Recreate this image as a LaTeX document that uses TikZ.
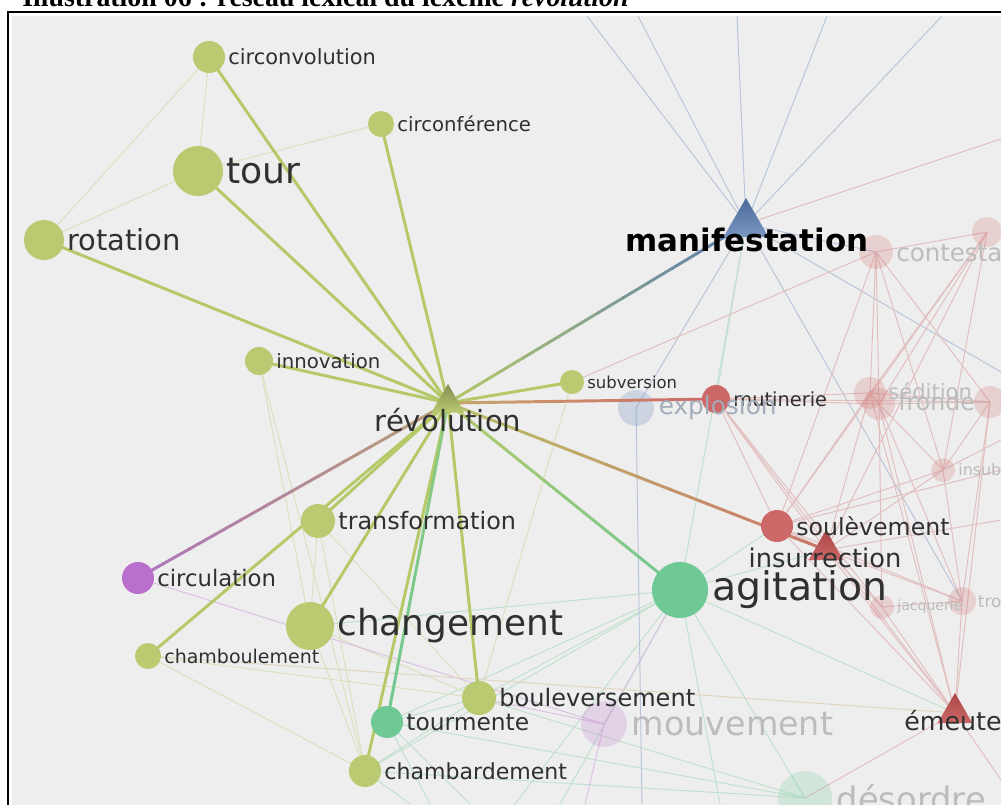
\documentclass[tikz,border=0pt]{standalone}
\usepackage{fontspec}
\setmainfont{DejaVu Sans}
\newfontfamily\capfont{Liberation Serif}
\usetikzlibrary{calc}
\usetikzlibrary{positioning}
\usetikzlibrary{shapes.geometric}

\definecolor{bggray}{RGB}{238,238,238}
\definecolor{lgreen}{RGB}{186,202,112}
\definecolor{egreen}{RGB}{181,201,104}
\definecolor{agreen}{RGB}{110,201,148}
\definecolor{purp}{RGB}{185,112,204}
\definecolor{rred}{RGB}{205,104,104}
\definecolor{tred}{RGB}{170,70,70}
\definecolor{mblue}{RGB}{88,124,180}
\definecolor{tan}{RGB}{200,168,110}
\definecolor{labgray}{RGB}{48,48,48}
\definecolor{fadegray}{RGB}{188,188,188}

\pgfdeclarelayer{back}
\pgfdeclarelayer{faint}
\pgfdeclarelayer{faded}
\pgfdeclarelayer{strong}
\pgfsetlayers{back,faint,faded,strong,main}

\tikzset{
  gnode/.style={circle, inner sep=0pt, fill=lgreen},
  rad/.style={minimum size=#1*0.05cm},
  tri/.style={regular polygon, regular polygon sides=3, inner sep=0pt},
  ghostnode/.style={circle, inner sep=0pt, fill=#1, fill opacity=0.22},
  lab/.style={inner sep=0pt, text=labgray, font=\fontsize{#1pt}{#1pt}\selectfont},
  ghost/.style={inner sep=0pt, text=fadegray, font=\fontsize{#1pt}{#1pt}\selectfont},
  strong/.style={line width=2.1pt, draw=egreen},
  faint/.style={line width=0.7pt, draw=#1!35!bggray},
}

% gradient edge: from node #1 (colour #3) to node #2 (colour #4)
\newcommand{\gradedge}[4]{%
  \foreach \k in {0,...,11}{%
    \pgfmathsetmacro{\ka}{\k/12}%
    \pgfmathsetmacro{\kb}{(\k+1.05)/12}%
    \pgfmathtruncatemacro{\mix}{100*(\k+0.5)/12}%
    \draw[strong, draw=#4!\mix!#3] ($(#1.center)!\ka!(#2.center)$) -- ($(#1.center)!\kb!(#2.center)$);
  }}

\begin{document}
\begin{tikzpicture}[x=0.025cm, y=-0.025cm]
  \useasboundingbox (0,0) rectangle (1001,804);

  % Caption (cut at the top of the page)
  \node[anchor=base west, inner sep=0pt, font=\capfont\bfseries\fontsize{19.8pt}{20pt}\selectfont] (caption) at (22,6)
    {Illustration 06 : réseau lexical du lexème \textit{révolution}};

  % Frame
  \begin{pgfonlayer}{back}
    \draw[black, line width=0.8pt] (8,12) rectangle (1012,816);
    \fill[bggray] (12,16) rectangle (1012,816);
  \end{pgfonlayer}

  % Free ends of the edges leaving the frame
  \foreach \n/\x/\y in {t1/587/16, t2/638/16, t3/737/16, t4/827/16, t5/942/16,
      r1/1001/372, r2/1001/139, r3/1001/780, r4/1001/470, r5/1001/520, r6/1001/440,
      b1/515/804, b2/560/804, b3/720/804, b4/430/804, b5/470/804, b6/410/804,
      b8/585/804, b9/642/804}
    \coordinate (\n) at (\x,\y);

  % Faded nodes (other clusters)
  \begin{pgfonlayer}{faded}
    \node[ghostnode=mblue, rad=18] (explo) at (636,408) {};
    \node[ghostnode=purp, rad=23] (mouv) at (604,724) {};
    \node[ghostnode=agreen, rad=27] (desord) at (805,798) {};
    \node[ghostnode=rred, rad=17] (contest) at (876,252) {};
    \node[ghostnode=rred, rad=15] (rtop) at (987,232) {};
    \node[ghostnode=rred, rad=16] (sedit) at (870,393) {};
    \node[ghostnode=rred, rad=16] (fronde) at (879,404) {};
    \node[ghostnode=rred, rad=16] (rmid) at (990,402) {};
    \node[ghostnode=rred, rad=12] (insub) at (943,470) {};
    \node[ghostnode=rred, rad=12] (jacq) at (882,607) {};
    \node[ghostnode=rred, rad=14] (troub) at (962,601) {};
  \end{pgfonlayer}

  % Nodes
  \node[gnode, rad=16] (circonv) at (209,57) {};
  \node[gnode, rad=13] (circonf) at (381,124) {};
  \node[gnode, rad=25] (tour) at (198,171) {};
  \node[gnode, rad=20] (rotation) at (44,240) {};
  \node[gnode, rad=14] (innov) at (259,361) {};
  \node[gnode, rad=12] (subv) at (572,382) {};
  \node[gnode, rad=17] (transf) at (318,521) {};
  \node[gnode, rad=24] (chang) at (310,626) {};
  \node[gnode, rad=13] (chamboul) at (148,656) {};
  \node[gnode, rad=17] (boulev) at (479,698) {};
  \node[gnode, rad=16] (chamb) at (365,771) {};
  \node[gnode, rad=16, fill=purp] (circul) at (138,578) {};
  \node[gnode, rad=16, fill=agreen] (tourm) at (387,722) {};
  \node[gnode, rad=28, fill=agreen] (agit) at (680,590) {};
  \node[gnode, rad=14, fill=rred] (mutin) at (716,399) {};
  \node[gnode, rad=16, fill=rred] (soulev) at (777,526) {};
  \node[tri, minimum size=38*0.025cm, top color=lgreen!70!black, bottom color=lgreen] (rev) at (448,403) {};
  \node[tri, minimum size=52*0.025cm, top color=mblue!85!black, bottom color=mblue!80!white] (manif) at (746,224) {};
  \node[tri, minimum size=40*0.025cm, top color=tred, bottom color=rred] (insurr) at (826,550) {};
  \node[tri, minimum size=40*0.025cm, top color=tred, bottom color=rred] (emeute) at (955,713) {};

  % Faint edges
  \begin{pgfonlayer}{faint}
    \foreach \a/\b in {circonv/rotation, circonv/tour, tour/rotation, tour/circonf,
        innov/chang, innov/chamb, transf/chang, transf/chamb, chang/chamb, transf/boulev,
        chamboul/boulev, chamboul/chamb, chang/boulev, subv/boulev}
      \draw[faint=egreen] (\a.center) -- (\b.center);
    \foreach \a/\b in {agit/tourm, agit/chamb, agit/boulev, agit/chang, agit/desord,
        agit/emeute, agit/soulev, agit/insurr, tourm/desord, tourm/boulev, chamb/desord,
        boulev/desord, chamb/boulev, manif/agit, manif/mutin, agit/b1, agit/b2, agit/b3,
        tourm/b4, tourm/b5, chamb/b6}
      \draw[faint=agreen] (\a.center) -- (\b.center);
    \foreach \a/\b in {circul/mouv, mouv/agit, mouv/boulev, mouv/b8}
      \draw[faint=purp] (\a.center) -- (\b.center);
    \foreach \a/\b in {manif/t1, manif/t2, manif/t3, manif/t4, manif/t5, manif/explo,
        manif/r1, manif/troub, manif/contest, explo/b9}
      \draw[faint=mblue] (\a.center) -- (\b.center);
    \foreach \a/\b in {subv/contest, manif/r2, contest/sedit, contest/fronde, contest/insub,
        contest/rtop, contest/soulev, contest/rmid, rtop/sedit, rtop/fronde, rtop/insub,
        rtop/soulev, rtop/insurr, mutin/sedit, mutin/fronde, mutin/rmid, mutin/soulev,
        mutin/insurr, mutin/emeute, mutin/jacq, sedit/fronde, sedit/rmid, fronde/rmid,
        sedit/soulev, sedit/insurr, sedit/emeute, fronde/insub, fronde/jacq, fronde/troub,
        fronde/emeute, insub/soulev, insub/insurr, insub/rmid, insub/troub, soulev/insurr,
        soulev/emeute, soulev/troub, insurr/emeute, insurr/jacq, insurr/troub, jacq/emeute,
        troub/emeute, jacq/troub, rmid/emeute, rmid/troub, emeute/desord, emeute/r3,
        soulev/r4, insurr/r5, insub/r6}
      \draw[faint=rred] (\a.center) -- (\b.center);
    \draw[faint=tan] (chamboul.center) -- (emeute.center);
  \end{pgfonlayer}

  % Strong edges of révolution
  \begin{pgfonlayer}{strong}
    \foreach \b in {circonv, tour, rotation, circonf, innov, subv, transf, chamboul,
        chang, chamb, boulev}
      \draw[strong] (rev.center) -- (\b.center);
    \gradedge{rev}{manif}{egreen}{mblue}
    \gradedge{rev}{mutin}{tan}{rred}
    \gradedge{rev}{insurr}{egreen!80!tan}{rred}
    \gradedge{rev}{agit}{egreen}{agreen}
    \gradedge{rev}{circul}{tan!80!gray}{purp}
    \gradedge{rev}{tourm}{egreen!50!agreen}{agreen}
  \end{pgfonlayer}

  % Labels
  \node[lab=14.9, right=2pt of circonv] (circonvL) {circonvolution};
  \node[lab=14, right=2pt of circonf] (circonfL) {circonférence};
  \node[lab=25.7, right=2pt of tour] (tourL) {tour};
  \node[lab=20.6, right=2pt of rotation] (rotationL) {rotation};
  \node[lab=14, right=2pt of innov] (innovL) {innovation};
  \node[lab=11.7, right=2pt of subv] (subvL) {subversion};
  \node[lab=13.8, right=2pt of mutin] (mutinL) {mutinerie};
  \node[lab=16.8, right=2pt of soulev] (soulevL) {soulèvement};
  \node[lab=28, right=3pt of agit] (agitL) {agitation};
  \node[lab=17, right=2pt of transf] (transfL) {transformation};
  \node[lab=16.2, right=2pt of circul] (circulL) {circulation};
  \node[lab=25.5, right=2pt of chang] (changL) {changement};
  \node[lab=13.5, right=2pt of chamboul] (chamboulL) {chamboulement};
  \node[lab=17.1, right=2pt of boulev] (boulevL) {bouleversement};
  \node[lab=16.6, right=2pt of tourm] (tourmL) {tourmente};
  \node[lab=15.7, right=2pt of chamb] (chambL) {chambardement};
  \node[lab=20.7, anchor=base] (revL) at (448,431) {révolution};
  \node[lab=22, anchor=base, text=black, font=\bfseries\fontsize{22pt}{22pt}\selectfont] (manifL) at (747,251) {manifestation};
  \node[lab=18.3, anchor=base] (insurrL) at (825,567) {insurrection};
  \node[lab=18, anchor=base] (emeuteL) at (953,730) {émeute};

  % Labels of the faded nodes
  \node[ghost=17.6, text=mblue!25!fadegray, right=3pt of explo] (exploL) {explosion};
  \node[ghost=23.7, right=3pt of mouv] (mouvL) {mouvement};
  \node[ghost=24, right=3pt of desord] (desordL) {désordre};
  \node[ghost=17.4, right=2pt of contest] (contestL) {contestation};
  \node[ghost=15, anchor=west] (seditL) at (888,391) {sédition};
  \node[ghost=16.8, anchor=west] (frondeL) at (898,402) {fronde};
  \node[ghost=11.3, right=2pt of insub] (insubL) {insubordination};
  \node[ghost=10, right=2pt of jacq] (jacqL) {jacquerie};
  \node[ghost=12, right=1pt of troub] (troubL) {troubles};
\end{tikzpicture}
\end{document}
